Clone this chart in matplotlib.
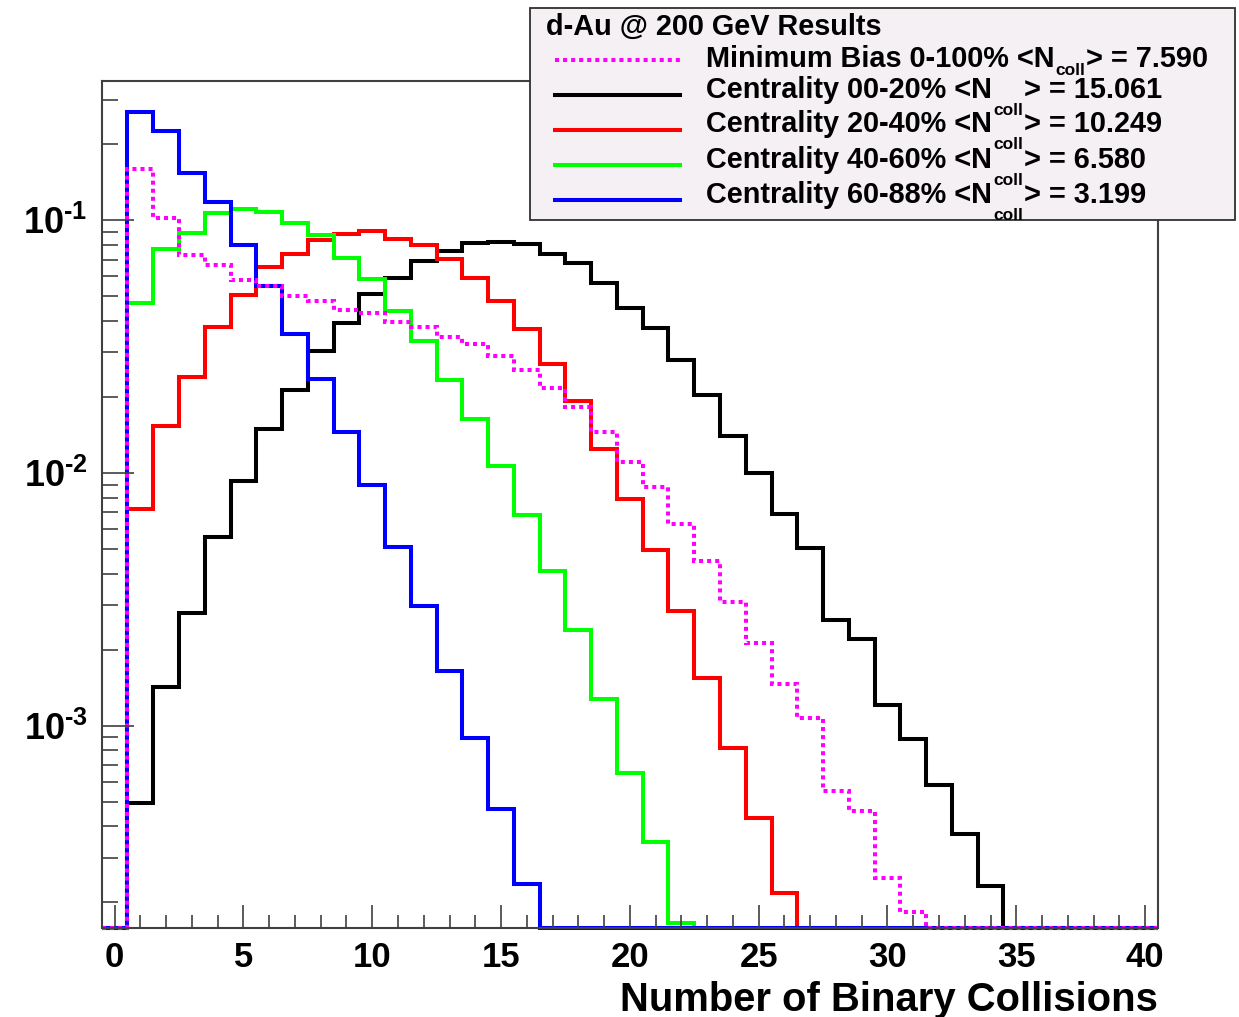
import matplotlib
matplotlib.use("Agg")
import matplotlib.pyplot as plt
from matplotlib.lines import Line2D
from matplotlib.patches import Rectangle
from matplotlib.ticker import MultipleLocator, LogLocator, NullFormatter, FuncFormatter
import numpy as np

plt.rcParams['font.family'] = ['Liberation Sans', 'DejaVu Sans']
plt.rcParams['font.weight'] = 'bold'
plt.rcParams['mathtext.fontset'] = 'custom'
plt.rcParams['mathtext.rm'] = 'Liberation Sans:bold'
plt.rcParams['mathtext.it'] = 'Liberation Sans:bold'
plt.rcParams['mathtext.bf'] = 'Liberation Sans:bold'

# normalised N_coll distributions, one value per bin (bin 0, 1, 2, ...)
n_coll = np.arange(0, 41)
min_bias = [0, 0.1591, 0.1019, 0.0731, 0.0667, 0.0580, 0.0548, 0.0500, 0.0478, 0.0443,
            0.0430, 0.0395, 0.0377, 0.0347, 0.0323, 0.0290, 0.0256, 0.0218, 0.0182, 0.0145,
            0.0111, 0.00882, 0.00629, 0.00449, 0.00308, 0.00213, 0.00146, 0.00107, 0.000553,
            0.000458, 0.000249, 0.000184]
cent_00_20 = [0, 0.000497, 0.00143, 0.00279, 0.00560, 0.00932, 0.0149, 0.0214, 0.0305, 0.0391,
              0.0511, 0.0591, 0.0692, 0.0757, 0.0812, 0.0824, 0.0805, 0.0739, 0.0681, 0.0565,
              0.0450, 0.0375, 0.0279, 0.0203, 0.0140, 0.0100, 0.00687, 0.00504, 0.00263,
              0.00221, 0.00121, 0.000884, 0.000584, 0.000373, 0.000233]
cent_20_40 = [0, 0.00718, 0.0154, 0.0241, 0.0377, 0.0508, 0.0651, 0.0739, 0.0834, 0.0881,
              0.0908, 0.0842, 0.0798, 0.0702, 0.0591, 0.0481, 0.0372, 0.0271, 0.0192, 0.0125,
              0.00787, 0.00497, 0.00284, 0.00154, 0.000819, 0.000430, 0.000218]
cent_40_60 = [0, 0.0473, 0.0769, 0.0894, 0.1073, 0.1106, 0.1082, 0.0979, 0.0876, 0.0709,
              0.0586, 0.0439, 0.0332, 0.0233, 0.0163, 0.0107, 0.00682, 0.00408, 0.00240,
              0.00128, 0.000653, 0.000346, 0.000166]
cent_60_88 = [0, 0.2685, 0.2254, 0.1543, 0.1186, 0.0800, 0.0551, 0.0356, 0.0236, 0.0145,
              0.00896, 0.00512, 0.00299, 0.00164, 0.000897, 0.000468, 0.000237]

labels = ["Minimum Bias 0-100%", "Centrality 00-20%", "Centrality 20-40%",
          "Centrality 40-60%", "Centrality 60-88%"]
mean_ncoll = ["7.590", "15.061", "10.249", "6.580", "3.199"]
title = "d-Au @ 200 GeV Results"

W, H = 1239, 1017
YMIN, YMAX = 1.58e-4, 0.356

fig = plt.figure(figsize=(W / 100, H / 100), dpi=100)
ax = fig.add_axes([101.7 / W, 1 - 928.3 / H, (1158 - 101.7) / W, (928.3 - 81) / H])

edges = np.append(n_coll - 0.5, n_coll[-1] + 0.5)
series = [(cent_00_20, 'black', '-'),
          (cent_20_40, '#ff0000', '-'),
          (cent_40_60, '#00ff00', '-'),
          (cent_60_88, '#0000ff', '-'),
          (min_bias, '#ff00ff', (0, (1, 1)))]
for vals, col, ls in series:
    v = np.zeros(len(n_coll))
    v[:len(vals)] = vals
    v = np.where(v > 0, v, YMIN)  # empty bins sit on the frame, like ROOT
    ax.stairs(v, edges, baseline=None, color=col, lw=2.9, linestyle=ls,
              clip_on=False, joinstyle='miter')

ax.set_yscale('log')
ax.set_xlim(-0.5, 40.5)
ax.set_ylim(YMIN, YMAX)

ax.xaxis.set_major_locator(MultipleLocator(5))
ax.xaxis.set_minor_locator(MultipleLocator(1))
ax.yaxis.set_major_locator(LogLocator(base=10))
ax.yaxis.set_minor_locator(LogLocator(base=10, subs=np.arange(2, 10)))
ax.yaxis.set_minor_formatter(NullFormatter())
ax.yaxis.set_major_formatter(
    FuncFormatter(lambda y, p: '$10^{\u2010%d}$' % abs(round(np.log10(y)))))

frame = '#404040'
ax.tick_params(axis='both', which='both', direction='in', top=False, right=False,
               color=frame, width=1.2, labelsize=25)
ax.tick_params(axis='x', which='major', length=16.5, pad=9)
ax.tick_params(axis='x', which='minor', length=9.5)
ax.tick_params(axis='y', which='major', length=23, pad=10, labelsize=26)
ax.tick_params(axis='y', which='minor', length=11.5)
for s in ax.spines.values():
    s.set_color(frame)
    s.set_linewidth(1.5)

ax.set_xlabel("Number of Binary Collisions", fontsize=28.8, fontweight='bold',
              loc='right', labelpad=5)


def fx(x):
    return x / W


def fy(y):
    return 1 - y / H


# legend box drawn by hand, ROOT style
fs = 20.8
fig.add_artist(Rectangle((fx(530), fy(220)), fx(705), 212 / H, transform=fig.transFigure,
                         facecolor='#f5f0f3', edgecolor='#303030', lw=1.3, zorder=5))
fig.text(fx(546), fy(35), title, fontsize=fs, fontweight='bold', zorder=6)

renderer = fig.canvas.get_renderer()
line_y = [60, 95, 130, 165, 200]
base_y = [67, 98, 132, 168, 203]
for i, (vals, col, ls) in enumerate([series[4]] + series[:4]):
    fig.add_artist(Line2D([fx(555), fx(680)], [fy(line_y[i]), fy(line_y[i])],
                          transform=fig.transFigure, color=col, lw=2.9, linestyle=ls,
                          zorder=6))
    head = fig.text(fx(706), fy(base_y[i]), labels[i] + " <N", fontsize=fs,
                    fontweight='bold', zorder=6)
    x_end = head.get_window_extent(renderer).x1
    drop = 8 if i == 0 else 17
    sub = fig.text((x_end + 1) / W, fy(base_y[i] + drop), "coll", fontsize=12.5,
                   fontweight='bold', zorder=6)
    gap = sub.get_window_extent(renderer).width + 2
    fig.text((x_end + gap) / W, fy(base_y[i]), "> = " + mean_ncoll[i], fontsize=fs,
             fontweight='bold', zorder=6)

fig.savefig("out.png", dpi=100, facecolor='white')
